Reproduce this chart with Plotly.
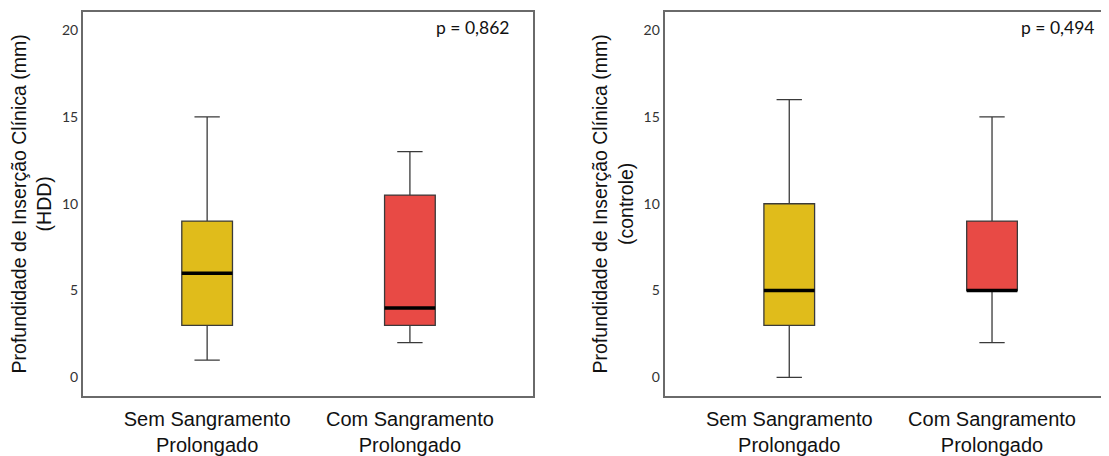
import plotly.graph_objects as go

categories = ["Sem Sangramento<br>Prolongado", "Com Sangramento<br>Prolongado"]
colors = ["#E0BC1B", "#E84A45"]

# HDD panel
hdd_min = [1, 2]
hdd_q1 = [3, 3]
hdd_median = [6, 4]
hdd_q3 = [9, 10.5]
hdd_max = [15, 13]
hdd_p = "p = 0,862"

# controle panel
ctl_min = [0, 2]
ctl_q1 = [3, 5]
ctl_median = [5, 5]
ctl_q3 = [10, 9]
ctl_max = [16, 15]
ctl_p = "p = 0,494"

y_ticks = [0, 5, 10, 15, 20]

BOX_W = 0.25

fig = go.Figure()

panels = [
    ("x", "y", hdd_min, hdd_q1, hdd_median, hdd_q3, hdd_max),
    ("x2", "y2", ctl_min, ctl_q1, ctl_median, ctl_q3, ctl_max),
]
for xa, ya, mn, q1, md, q3, mx in panels:
    for i in range(len(categories)):
        fig.add_trace(go.Box(
            x=[i], q1=[q1[i]], median=[md[i]], q3=[q3[i]],
            lowerfence=[mn[i]], upperfence=[mx[i]],
            width=BOX_W, whiskerwidth=0.5,
            fillcolor=colors[i], line=dict(color="#3a3a3a", width=1.3),
            xaxis=xa, yaxis=ya, showlegend=False, hoverinfo="skip",
        ))
        fig.add_trace(go.Scatter(
            x=[i - BOX_W / 2, i + BOX_W / 2], y=[md[i], md[i]],
            mode="lines", line=dict(color="black", width=3.5),
            xaxis=xa, yaxis=ya, showlegend=False, hoverinfo="skip",
        ))

axis_common = dict(
    showline=True, mirror=True, linecolor="#6a6a6a", linewidth=1.8,
    showgrid=False, zeroline=False, ticks="",
)
xfont = dict(family="Liberation Sans, Arial", size=20, color="#111")
yfont = dict(family="Lato, Open Sans", size=14, color="#333")
tfont = dict(family="Liberation Sans, Arial", size=19.5, color="#111")
YD = [0.1301, 0.9917]
YR = [-1.07, 21.06]

fig.update_layout(
    width=1101, height=448,
    margin=dict(l=0, r=0, t=0, b=0),
    paper_bgcolor="white", plot_bgcolor="white",
    xaxis=dict(domain=[0.0681, 0.4777], range=[-0.613, 1.607],
               tickvals=[0, 1], ticktext=categories, tickfont=xfont,
               ticklabelstandoff=4, anchor="y", **axis_common),
    xaxis2=dict(domain=[0.5974, 1.0], range=[-0.615, 1.567],
                tickvals=[0, 1], ticktext=categories, tickfont=xfont,
                ticklabelstandoff=4, anchor="y2", **axis_common),
    yaxis=dict(domain=YD, range=YR, tickvals=y_ticks, tickfont=yfont,
               anchor="x",
               title=dict(text="Profundidade de Inserção Clínica (mm)<br>(HDD)",
                          font=tfont, standoff=5),
               **axis_common),
    yaxis2=dict(domain=YD, range=YR, tickvals=y_ticks, tickfont=yfont,
                anchor="x2",
                title=dict(text="Profundidade de Inserção Clínica (mm)<br>(controle)",
                           font=tfont, standoff=5),
                **axis_common),
)

fig.add_annotation(text=hdd_p, xref="x domain", yref="y domain", x=0.954, y=0.958,
                   xanchor="right", yanchor="middle", showarrow=False,
                   font=dict(family="Lato, Open Sans", size=17.5, color="#111"))
fig.add_annotation(text=ctl_p, xref="x2 domain", yref="y2 domain", x=0.978, y=0.958,
                   xanchor="right", yanchor="middle", showarrow=False,
                   font=dict(family="Lato, Open Sans", size=17.5, color="#111"))

fig.write_html("out.html")
